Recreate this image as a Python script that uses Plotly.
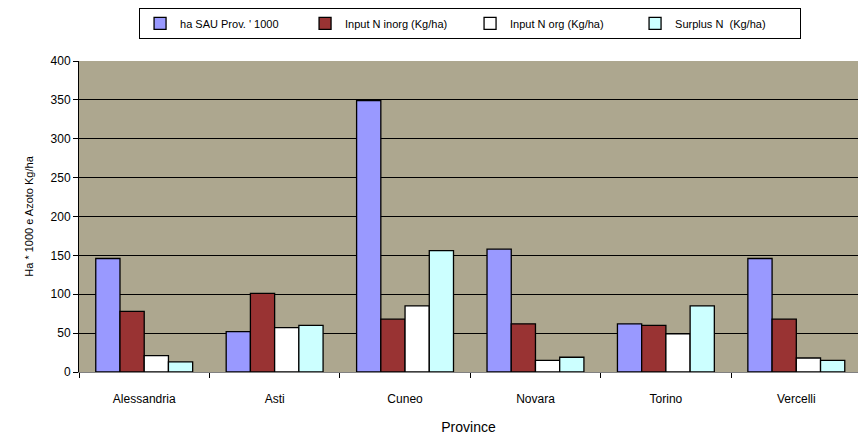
import plotly.graph_objects as go

provinces = ["Alessandria", "Asti", "Cuneo", "Novara", "Torino", "Vercelli"]
series_names = ["ha SAU Prov. ' 1000", "Input N inorg (Kg/ha)", "Input N org (Kg/ha)", "Surplus N  (Kg/ha)"]
ha_sau = [146, 52, 349, 158, 62, 146]
n_inorg = [78, 101, 68, 62, 60, 68]
n_org = [21, 57, 85, 15, 49, 18]
surplus = [13, 60, 156, 19, 85, 15]
y_ticks = [0, 50, 100, 150, 200, 250, 300, 350, 400]

colors = ["#9999FF", "#993333", "#FFFFFF", "#CCFFFF"]
values = [ha_sau, n_inorg, n_org, surplus]

fig = go.Figure()
for name, vals, col in zip(series_names, values, colors):
    fig.add_trace(go.Bar(x=provinces, y=vals, name=name,
                         marker=dict(color=col, line=dict(color="#000000", width=1.3))))

fig.update_layout(
    width=858, height=435,
    margin=dict(l=79, r=0, t=61, b=63),
    paper_bgcolor="#FFFFFF",
    plot_bgcolor="#ADA78F",
    barmode="group",
    bargap=0.257,
    bargroupgap=0,
    font=dict(family="Liberation Sans, Arial, sans-serif", size=12, color="#000000"),
    legend=dict(orientation="h", x=0.502, xanchor="center", y=0.982, yanchor="top",
                yref="container", font=dict(size=11),
                bordercolor="#000000", borderwidth=1, bgcolor="#FFFFFF",
                itemwidth=30, tracegroupgap=0, entrywidth=120, entrywidthmode="pixels"),
    showlegend=True,
)
fig.update_xaxes(
    range=[-0.5, 5.473], tickson="boundaries", ticks="outside", ticklen=5,
    tickcolor="#000000", showline=True, linecolor="#808080", linewidth=1,
    showgrid=False, title=dict(text="Province", standoff=16), tickfont=dict(size=12),
    ticklabelstandoff=16,
)
fig.update_yaxes(
    range=[0, 400], tickvals=y_ticks, ticks="outside", ticklen=5, tickcolor="#000000",
    showline=True, linecolor="#000000", linewidth=1,
    showgrid=True, gridcolor="#000000", gridwidth=1, zeroline=False,
    title=dict(text="Ha * 1000 e Azoto Kg/ha", standoff=14, font=dict(size=11)),
    tickfont=dict(size=12),
)

fig.write_html("out.html")
